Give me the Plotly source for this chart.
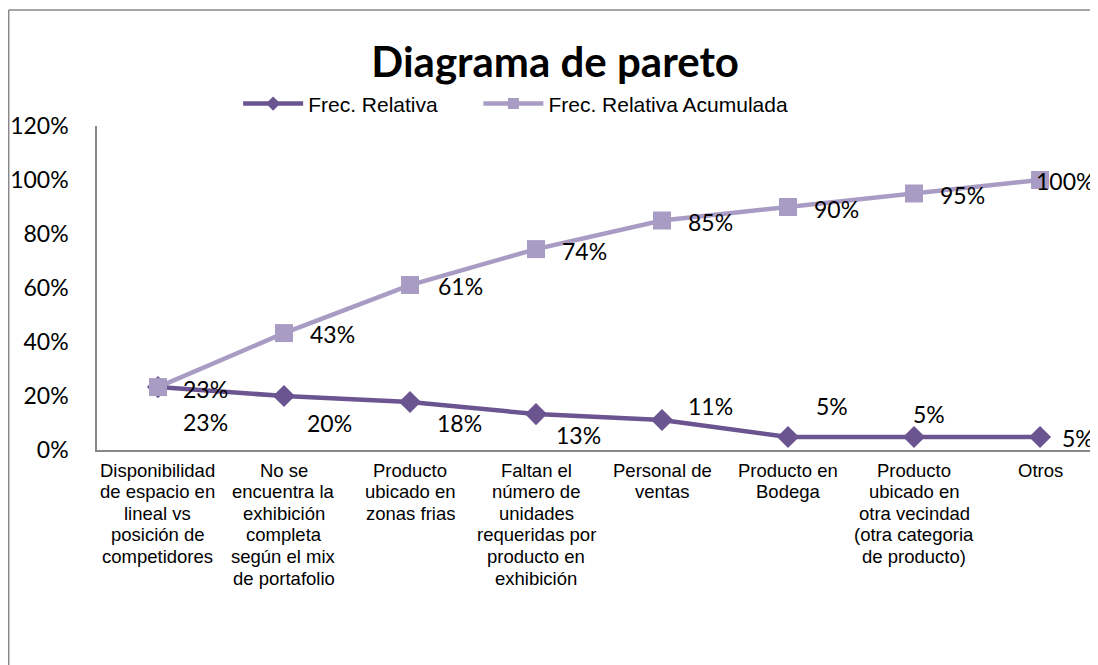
import plotly.graph_objects as go

categories = [
    "Disponibilidad<br>de espacio en<br>lineal vs<br>posición de<br>competidores",
    "No se<br>encuentra la<br>exhibición<br>completa<br>según el mix<br>de portafolio",
    "Producto<br>ubicado en<br>zonas frias",
    "Faltan el<br>número de<br>unidades<br>requeridas por<br>producto en<br>exhibición",
    "Personal de<br>ventas",
    "Producto en<br>Bodega",
    "Producto<br>ubicado en<br>otra vecindad<br>(otra categoria<br>de producto)",
    "Otros",
]
frec_relativa = [0.233, 0.200, 0.178, 0.133, 0.111, 0.048, 0.048, 0.048]
frec_acumulada = [0.233, 0.433, 0.611, 0.744, 0.850, 0.900, 0.950, 1.000]

# label pixel offsets (style): (dx, dy) with dy upward
rel_shift = [(48, -35), (46, -27), (49, -21), (42, -21), (48, 14), (44, 31), (15, 23), (38, -1)]
cum_shift = [(48, -2), (49, -1), (50, -1), (48, -2), (48, -1), (48, -2), (48, -1), (25, -1)]

c_rel = "#6B5591"
c_cum = "#A99CC4"

x = list(range(len(categories)))

fig = go.Figure()
fig.add_trace(go.Scatter(
    x=x, y=frec_relativa, name="Frec. Relativa", mode="lines+markers",
    line=dict(color=c_rel, width=4.5),
    marker=dict(symbol="diamond", size=17, color=c_rel),
    hoverinfo="skip", showlegend=False,
))
fig.add_trace(go.Scatter(
    x=x, y=frec_acumulada, name="Frec. Relativa Acumulada", mode="lines+markers",
    line=dict(color=c_cum, width=4.5),
    marker=dict(symbol="square", size=18, color=c_cum),
    hoverinfo="skip", showlegend=False,
))
# legend entries (smaller symbols, like the reference legend)
fig.add_trace(go.Scatter(x=[None], y=[None], name="Frec. Relativa", mode="lines+markers",
                         line=dict(color=c_rel, width=4.5),
                         marker=dict(symbol="diamond", size=11, color=c_rel), legend="legend"))
fig.add_trace(go.Scatter(x=[None], y=[None], name="Frec. Relativa Acumulada", mode="lines+markers",
                         line=dict(color=c_cum, width=4.5),
                         marker=dict(symbol="square", size=11, color=c_cum), legend="legend2"))

label_font = dict(family="Lato, Carlito, Calibri, sans-serif", size=23, color="#000000")
for i, v in enumerate(frec_relativa):
    fig.add_annotation(x=i, y=v, text=f"{round(v*100)}%", showarrow=False,
                       xshift=rel_shift[i][0], yshift=rel_shift[i][1],
                       font=label_font, xanchor="center", yanchor="middle")
for i, v in enumerate(frec_acumulada):
    fig.add_annotation(x=i, y=v, text=f"{round(v*100)}%", showarrow=False,
                       xshift=cum_shift[i][0], yshift=cum_shift[i][1],
                       font=label_font, xanchor="center", yanchor="middle")

# category labels, one line per annotation (tight Excel-like line spacing)
cat_font = dict(family="Liberation Sans, Arial, sans-serif", size=18.5, color="#000000")
for i, cat in enumerate(categories):
    for k, line in enumerate(cat.split("<br>")):
        fig.add_annotation(x=i, y=0, xref="x", yref="y", text=line, showarrow=False,
                           yshift=-(20 + 21.6 * k), xanchor="center", yanchor="middle",
                           font=cat_font)

# outer chart border
border = dict(color="#888888", width=1.5)
fig.add_shape(type="line", xref="paper", yref="paper", x0=-0.0882, x1=-0.0882, y0=-1.0, y1=1.358, line=border)
fig.add_shape(type="line", xref="paper", yref="paper", x0=-0.0882, x1=1.1, y0=1.358, y1=1.358, line=border)

legend_common = dict(orientation="h", xanchor="left", y=1.068, yanchor="middle",
                     font=dict(family="Liberation Sans, Arial, sans-serif", size=21, color="#000000"),
                     itemwidth=60, bgcolor="rgba(0,0,0,0)")

fig.update_layout(
    width=1090, height=657,
    margin=dict(l=89, r=0, t=118, b=215),
    paper_bgcolor="white", plot_bgcolor="white",
    title=dict(text="<b>Diagrama de pareto</b>", x=0.502, xref="container", xanchor="center",
               y=0.918, yref="container", yanchor="middle",
               font=dict(family="Lato, Carlito, Calibri, sans-serif", size=42, color="#000000")),
    legend=dict(x=0.141, **legend_common),
    legend2=dict(x=0.381, **legend_common),
    showlegend=True,
    xaxis=dict(range=[-0.484, 7.46], tickmode="array", tickvals=x, showticklabels=False,
               showgrid=False, zeroline=False, showline=True, linecolor="#888888", linewidth=1.5,
               ticks=""),
    yaxis=dict(range=[0, 1.2], dtick=0.2, tickformat=".0%", showgrid=False, zeroline=False,
               showline=True, linecolor="#888888", linewidth=1.5, ticks="",
               ticklabelstandoff=22,
               tickfont=dict(family="Lato, Carlito, Calibri, sans-serif", size=23, color="#000000")),
)

fig.write_html("out.html")
